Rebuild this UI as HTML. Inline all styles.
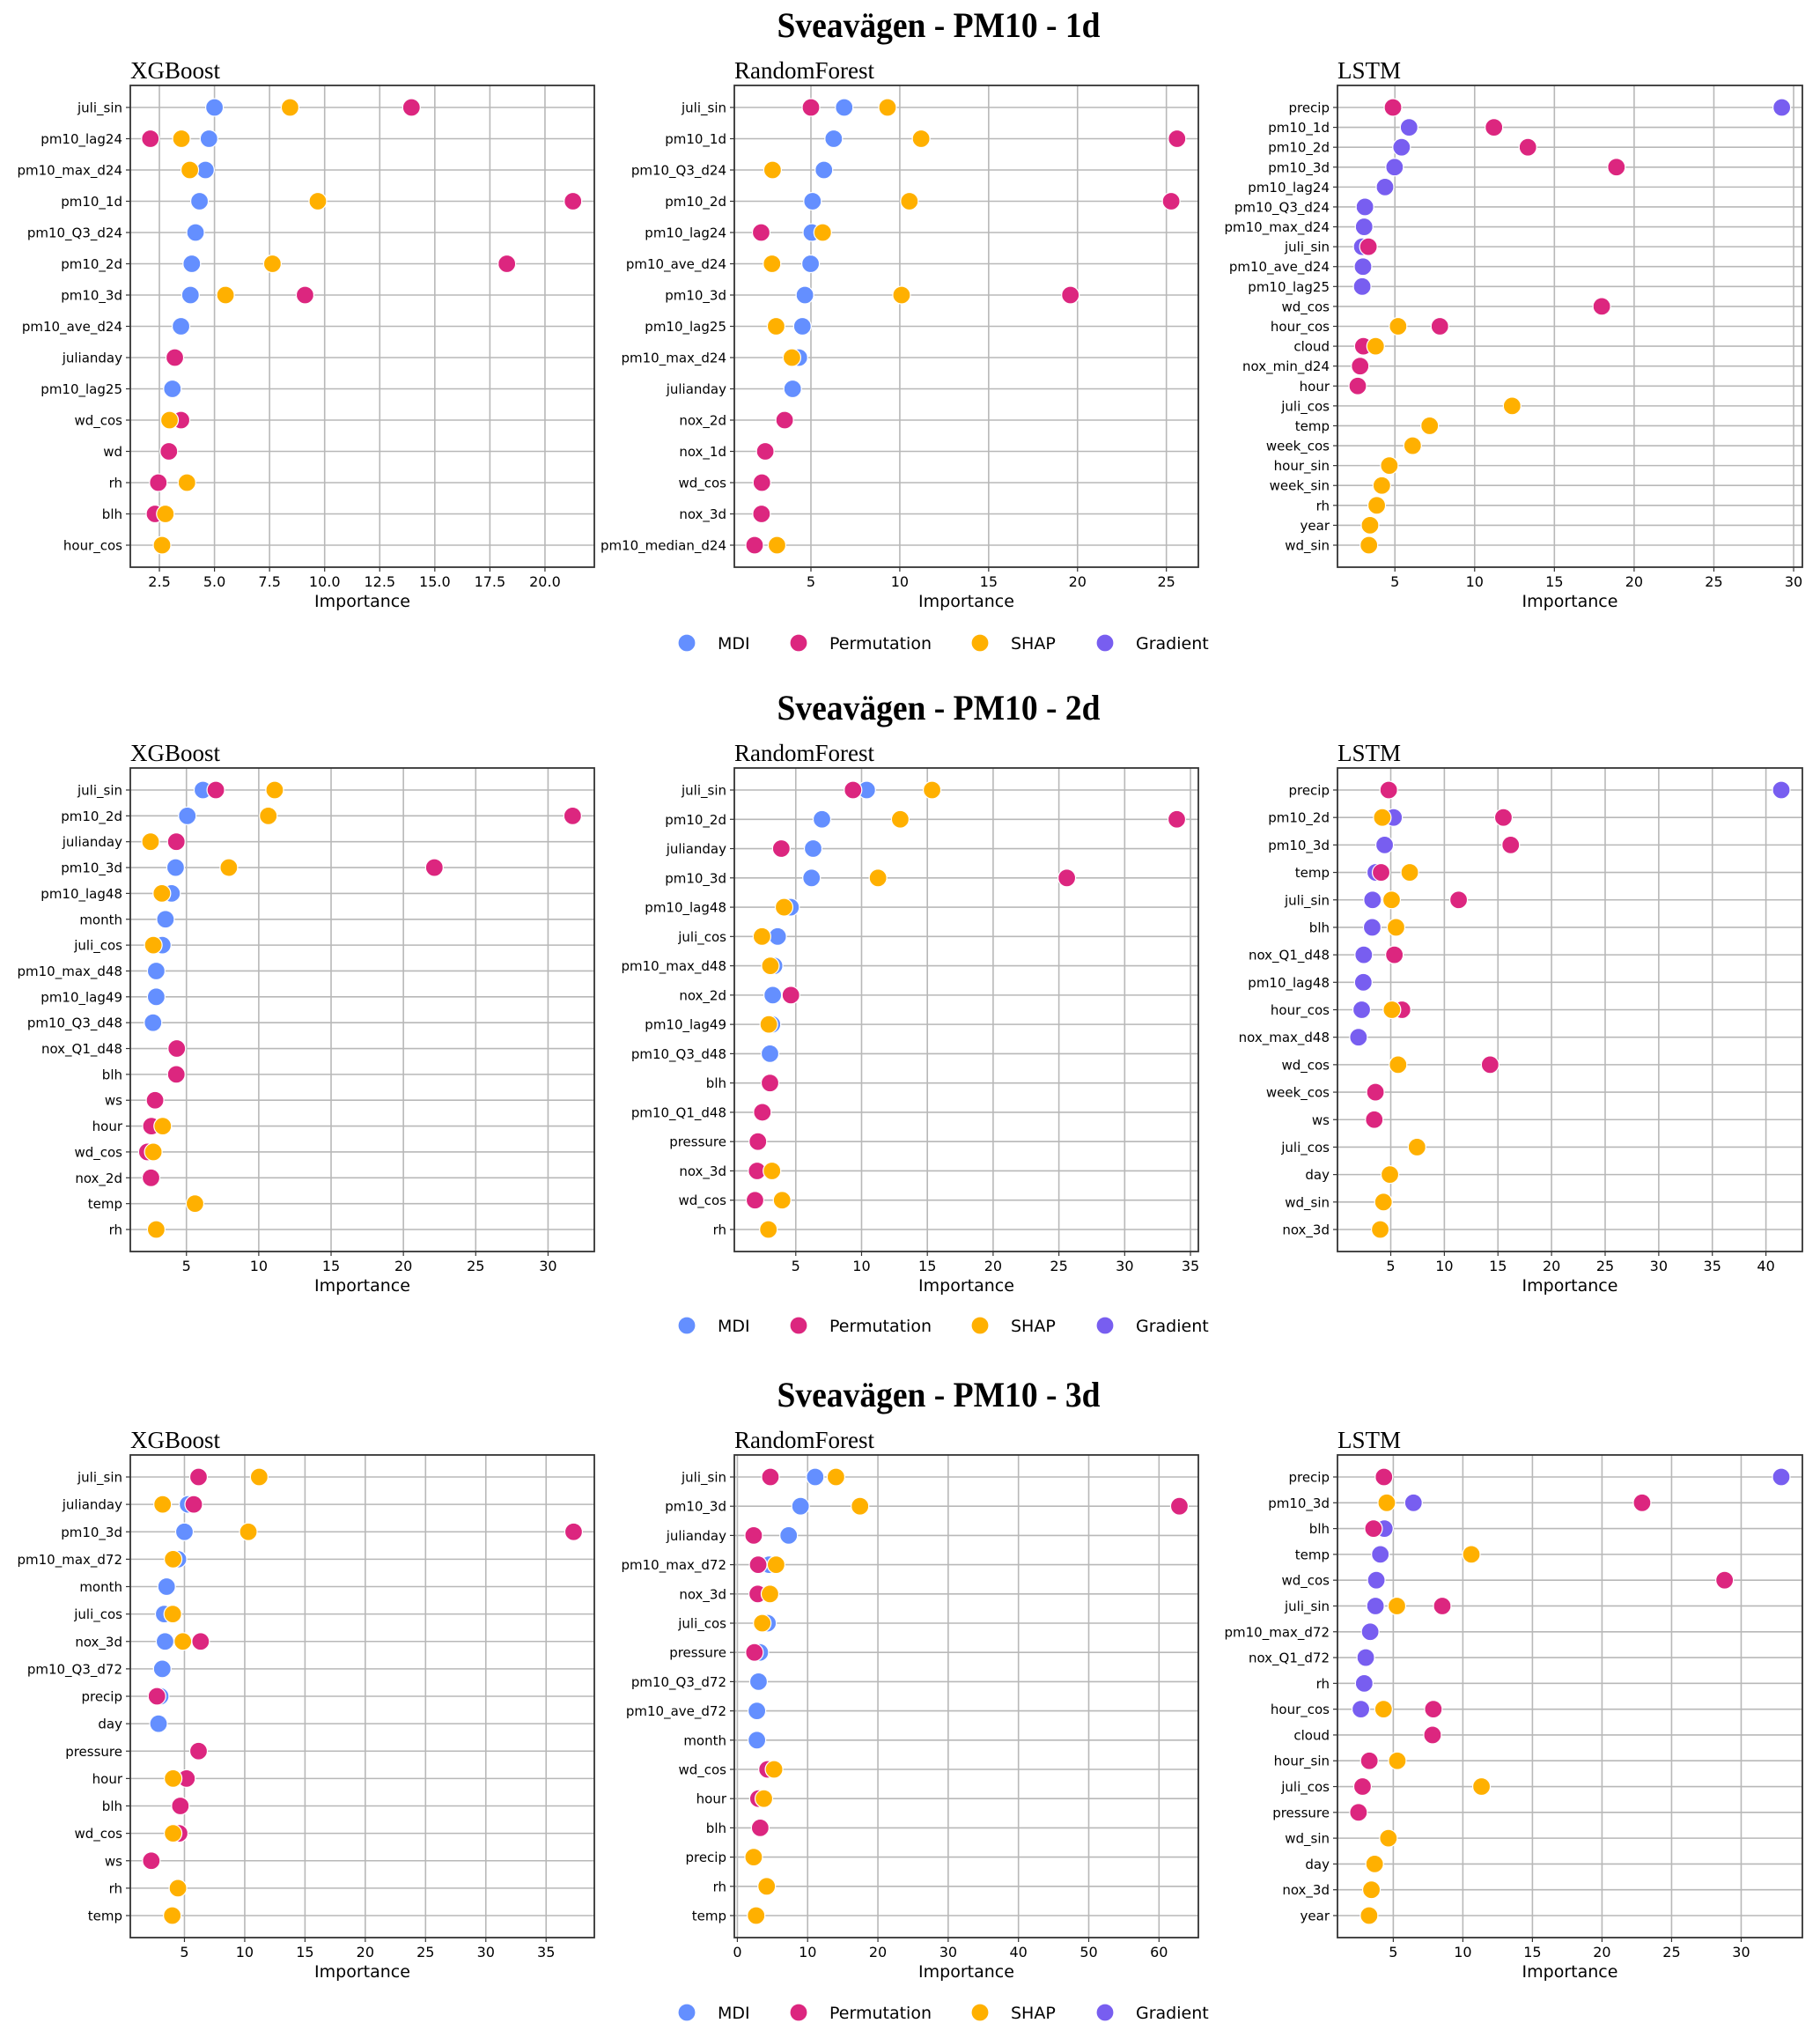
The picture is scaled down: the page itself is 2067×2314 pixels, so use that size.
<!DOCTYPE html>
<html><head><meta charset="utf-8"><title>Sveavägen PM10 feature importance</title>
<style>
html,body{margin:0;padding:0;background:#fff;}
svg{display:block;}
</style></head>
<body>
<svg id="fig" xmlns="http://www.w3.org/2000/svg" width="2067" height="2314" viewBox="0 0 2067 2314"></svg>
<script>
// ---------- DATA ----------
const rowTitles = ["Sveavägen - PM10 - 1d", "Sveavägen - PM10 - 2d", "Sveavägen - PM10 - 3d"];
const modelNames = ["XGBoost", "RandomForest", "LSTM"];
const legendLabels = ["MDI", "Permutation", "SHAP", "Gradient"];

const p1_feat = ["juli_sin","pm10_lag24","pm10_max_d24","pm10_1d","pm10_Q3_d24","pm10_2d","pm10_3d","pm10_ave_d24","julianday","pm10_lag25","wd_cos","wd","rh","blh","hour_cos"];
const p1_mdi  = [5.0,4.75,4.59,4.32,4.14,3.97,3.91,3.48,null,3.09,null,null,null,null,null];
const p1_perm = [13.94,2.09,null,21.27,null,18.27,9.11,null,3.2,null,3.48,2.93,2.45,2.3,null];
const p1_shap = [8.43,3.5,3.88,9.69,null,7.63,5.5,null,null,null,2.96,null,3.75,2.77,2.62];
const p1_grad = [];
const p1_ticks = [2.5,5.0,7.5,10.0,12.5,15.0,17.5,20.0];
const p1_tickLabels = ["2.5","5.0","7.5","10.0","12.5","15.0","17.5","20.0"];

const p2_feat = ["juli_sin","pm10_1d","pm10_Q3_d24","pm10_2d","pm10_lag24","pm10_ave_d24","pm10_3d","pm10_lag25","pm10_max_d24","julianday","nox_2d","nox_1d","wd_cos","nox_3d","pm10_median_d24"];
const p2_mdi  = [6.87,6.28,5.73,5.09,5.05,4.98,4.66,4.52,4.32,3.97,null,null,null,null,null];
const p2_perm = [5.0,25.6,null,25.27,2.2,null,19.6,null,null,null,3.52,2.43,2.24,2.22,1.83];
const p2_shap = [9.31,11.2,2.84,10.54,5.66,2.81,10.1,3.04,3.93,null,null,null,null,null,3.09];
const p2_grad = [];
const p2_ticks = [5,10,15,20,25];
const p2_tickLabels = ["5","10","15","20","25"];

const p3_feat = ["precip","pm10_1d","pm10_2d","pm10_3d","pm10_lag24","pm10_Q3_d24","pm10_max_d24","juli_sin","pm10_ave_d24","pm10_lag25","wd_cos","hour_cos","cloud","nox_min_d24","hour","juli_cos","temp","week_cos","hour_sin","week_sin","rh","year","wd_sin"];
const p3_mdi  = [];
const p3_perm = [4.88,11.21,13.34,18.89,null,null,null,3.34,null,null,17.97,7.82,3.02,2.82,2.67,null,null,null,null,null,null,null,null];
const p3_shap = [null,null,null,null,null,null,null,null,null,null,null,5.2,3.79,null,null,12.35,7.18,6.11,4.65,4.18,3.86,3.44,3.37];
const p3_grad = [29.26,5.89,5.42,4.98,4.38,3.12,3.07,2.95,3.0,2.95,null,null,null,null,null,null,null,null,null,null,null,null,null];
const p3_ticks = [5,10,15,20,25,30];
const p3_tickLabels = ["5","10","15","20","25","30"];

const p4_feat = ["juli_sin","pm10_2d","julianday","pm10_3d","pm10_lag48","month","juli_cos","pm10_max_d48","pm10_lag49","pm10_Q3_d48","nox_Q1_d48","blh","ws","hour","wd_cos","nox_2d","temp","rh"];
const p4_mdi  = [6.14,5.06,null,4.25,3.97,3.55,3.33,2.91,2.91,2.69,null,null,null,null,null,null,null,null];
const p4_perm = [7.03,31.7,4.3,22.14,null,null,null,null,null,null,4.33,4.3,2.83,2.58,2.3,2.55,null,null];
const p4_shap = [11.1,10.66,2.52,7.93,3.3,null,2.71,null,null,null,null,null,null,3.36,2.71,null,5.59,2.91];
const p4_grad = [];
const p4_ticks = [5,10,15,20,25,30];
const p4_tickLabels = ["5","10","15","20","25","30"];

const p5_feat = ["juli_sin","pm10_2d","julianday","pm10_3d","pm10_lag48","juli_cos","pm10_max_d48","nox_2d","pm10_lag49","pm10_Q3_d48","blh","pm10_Q1_d48","pressure","nox_3d","wd_cos","rh"];
const p5_mdi  = [10.39,6.99,6.32,6.2,4.6,3.62,3.35,3.25,3.19,3.04,null,null,null,null,null,null];
const p5_perm = [9.35,33.96,3.9,25.6,null,null,null,4.63,null,null,3.04,2.46,2.12,2.06,1.9,null];
const p5_shap = [15.36,12.94,null,11.25,4.11,2.43,3.07,null,2.95,null,null,null,null,3.19,3.96,2.92];
const p5_grad = [];
const p5_ticks = [5,10,15,20,25,30,35];
const p5_tickLabels = ["5","10","15","20","25","30","35"];

const p6_feat = ["precip","pm10_2d","pm10_3d","temp","juli_sin","blh","nox_Q1_d48","pm10_lag48","hour_cos","nox_max_d48","wd_cos","week_cos","ws","juli_cos","day","wd_sin","nox_3d"];
const p6_mdi  = [];
const p6_perm = [4.81,15.51,16.19,4.1,11.33,null,5.34,null,6.05,null,14.27,3.57,3.46,null,null,null,null];
const p6_shap = [null,4.21,null,6.77,5.08,5.49,null,null,5.11,null,5.68,null,null,7.45,4.92,4.32,4.02];
const p6_grad = [41.43,5.26,4.43,3.6,3.3,3.27,2.48,2.44,2.29,1.99,null,null,null,null,null,null,null];
const p6_ticks = [5,10,15,20,25,30,35,40];
const p6_tickLabels = ["5","10","15","20","25","30","35","40"];

const p7_feat = ["juli_sin","julianday","pm10_3d","pm10_max_d72","month","juli_cos","nox_3d","pm10_Q3_d72","precip","day","pressure","hour","blh","wd_cos","ws","rh","temp"];
const p7_mdi  = [null,5.3,5.0,4.46,3.52,3.32,3.39,3.16,2.99,2.85,null,null,null,null,null,null,null];
const p7_perm = [6.17,5.77,37.28,null,null,null,6.34,null,2.72,null,6.17,5.17,4.66,4.56,2.25,null,null];
const p7_shap = [11.2,3.19,10.3,4.06,null,4.03,4.87,null,null,null,null,4.06,null,4.06,null,4.46,3.99];
const p7_grad = [];
const p7_ticks = [5,10,15,20,25,30,35];
const p7_tickLabels = ["5","10","15","20","25","30","35"];

const p8_feat = ["juli_sin","pm10_3d","julianday","pm10_max_d72","nox_3d","juli_cos","pressure","pm10_Q3_d72","pm10_ave_d72","month","wd_cos","hour","blh","precip","rh","temp"];
const p8_mdi  = [11.07,8.99,7.3,4.52,null,4.29,3.19,3.01,2.78,2.78,null,null,null,null,null,null];
const p8_perm = [4.7,62.9,2.32,2.96,2.9,null,2.43,null,null,null,4.29,3.0,3.25,null,null,null];
const p8_shap = [14.03,17.45,null,5.51,4.64,3.54,null,null,null,null,5.22,3.77,null,2.32,4.17,2.67];
const p8_grad = [];
const p8_ticks = [0,10,20,30,40,50,60];
const p8_tickLabels = ["0","10","20","30","40","50","60"];

const p9_feat = ["precip","pm10_3d","blh","temp","wd_cos","juli_sin","pm10_max_d72","nox_Q1_d72","rh","hour_cos","cloud","hour_sin","juli_cos","pressure","wd_sin","day","nox_3d","year"];
const p9_mdi  = [];
const p9_perm = [4.33,22.88,3.58,null,28.81,8.52,null,null,null,7.88,7.82,3.28,2.79,2.5,null,null,null,null];
const p9_shap = [null,4.53,null,10.61,null,5.26,null,null,null,4.3,null,5.29,11.34,null,4.65,3.66,3.43,3.26];
const p9_grad = [32.88,6.45,4.36,4.07,3.78,3.72,3.34,3.02,2.91,2.67,null,null,null,null,null,null,null,null];
const p9_ticks = [5,10,15,20,25,30];
const p9_tickLabels = ["5","10","15","20","25","30"];

// ---------- LAYOUT ----------
const NS = "http://www.w3.org/2000/svg";
const svg = document.getElementById("fig");
const COLORS = {mdi:"#648FFF", perm:"#DC267F", shap:"#FFB000", grad:"#785EF0"};
const SANS = '"DejaVu Sans","Liberation Sans",sans-serif';
const SERIF = '"Liberation Serif","DejaVu Serif",serif';

function mk(tag, attrs, parent) {
  const e = document.createElementNS(NS, tag);
  for (const k in attrs) e.setAttribute(k, attrs[k]);
  (parent || svg).appendChild(e);
  return e;
}

const rowsGeo = [
  {top:97, bottom:644},
  {top:872, bottom:1421},
  {top:1652, bottom:2200}
];
const colGeo = [
  {left:148, right:675},
  {left:834, right:1361},
  {left:1519, right:2047}
];
const panelDomains = [
  [1.18,22.24],[0.69,26.8],[1.4,30.55],
  [1.12,33.2],[0.33,35.6],[0.03,43.4],
  [0.51,39.0],[-0.43,65.6],[0.99,34.4]
];
const panels = [
  [p1_feat,p1_mdi,p1_perm,p1_shap,p1_grad,p1_ticks,p1_tickLabels],
  [p2_feat,p2_mdi,p2_perm,p2_shap,p2_grad,p2_ticks,p2_tickLabels],
  [p3_feat,p3_mdi,p3_perm,p3_shap,p3_grad,p3_ticks,p3_tickLabels],
  [p4_feat,p4_mdi,p4_perm,p4_shap,p4_grad,p4_ticks,p4_tickLabels],
  [p5_feat,p5_mdi,p5_perm,p5_shap,p5_grad,p5_ticks,p5_tickLabels],
  [p6_feat,p6_mdi,p6_perm,p6_shap,p6_grad,p6_ticks,p6_tickLabels],
  [p7_feat,p7_mdi,p7_perm,p7_shap,p7_grad,p7_ticks,p7_tickLabels],
  [p8_feat,p8_mdi,p8_perm,p8_shap,p8_grad,p8_ticks,p8_tickLabels],
  [p9_feat,p9_mdi,p9_perm,p9_shap,p9_grad,p9_ticks,p9_tickLabels]
];

function drawPanel(idx) {
  const r = Math.floor(idx / 3), c = idx % 3;
  const G = rowsGeo[r], C = colGeo[c];
  const [feat, mdi, perm, shap, grad, ticks, tickLabels] = panels[idx];
  const [xmin, xmax] = panelDomains[idx];
  const L = C.left, R = C.right, T = G.top, B = G.bottom;
  const pad = 25;
  const xs = v => L + (v - xmin) / (xmax - xmin) * (R - L);
  const n = feat.length;
  const ys = i => (T + pad) + i * ((B - pad) - (T + pad)) / (n - 1);

  const g = mk("g", {});
  
  

  const t = mk("text", {x:L, y:T - 8, "font-family":SERIF, "font-size":27, fill:"#000"}, g);
  t.textContent = modelNames[c];
  
  

  ticks.forEach((tv, k) => {
    const x = xs(tv);
    const gl = mk("line", {x1:x, x2:x, y1:T, y2:B, stroke:"#b8b8b8", "stroke-width":1.6}, g);
    
    
    mk("line", {x1:x, x2:x, y1:B, y2:B + 5, stroke:"#333", "stroke-width":1.2}, g);
    const tl = mk("text", {x:x, y:B + 22, "text-anchor":"middle", "font-family":SANS, "font-size":16, fill:"#000"}, g);
    tl.textContent = tickLabels[k];
    
    
  });
  feat.forEach((f, i) => {
    const y = ys(i);
    const gl = mk("line", {x1:L, x2:R, y1:y, y2:y, stroke:"#b8b8b8", "stroke-width":1.6}, g);
    
    
    mk("line", {x1:L - 5, x2:L, y1:y, y2:y, stroke:"#333", "stroke-width":1.2}, g);
    const yl = mk("text", {x:L - 9, y:y + 5.5, "text-anchor":"end", "font-family":SANS, "font-size":15, fill:"#000"}, g);
    yl.textContent = f;
    
    
  });
  const xl = mk("text", {x:(L + R) / 2, y:B + 45, "text-anchor":"middle", "font-family":SANS, "font-size":19, fill:"#000"}, g);
  xl.textContent = "Importance";
  
  

  const series = [["grad", grad], ["mdi", mdi], ["perm", perm], ["shap", shap]];
  series.forEach(([key, arr]) => {
    arr.forEach((v, i) => {
      if (v === null || v === undefined) return;
      const dot = mk("circle", {cx:xs(v), cy:ys(i), r:10, fill:COLORS[key], stroke:"#fff", "stroke-width":1.2}, g);
      
      
    });
  });

  const fr = mk("rect", {x:L, y:T, width:R - L, height:B - T, fill:"none", stroke:"#333", "stroke-width":1.8}, g);
  
  
}

function drawRowDecor(r) {
  const T = rowsGeo[r].top;
  const tt = mk("text", {x:1066, y:T - 55, "text-anchor":"middle", "font-family":SERIF, "font-weight":"bold", "font-size":40, fill:"#000", textLength:367, lengthAdjust:"spacingAndGlyphs"});
  tt.textContent = rowTitles[r];
  
  

  const ly = T + 633;
  const lg = mk("g", {});
  
  
  const mx = [780, 907, 1113, 1255];
  const keys = ["mdi", "perm", "shap", "grad"];
  legendLabels.forEach((lab, k) => {
    const m = mk("circle", {cx:mx[k], cy:ly, r:10, fill:COLORS[keys[k]], stroke:"#fff", "stroke-width":1.2}, lg);
    
    
    const tx = mk("text", {x:mx[k] + 35, y:ly + 7, "font-family":SANS, "font-size":19, fill:"#000"}, lg);
    tx.textContent = lab;
    
    
  });
}

for (let r = 0; r < 3; r++) drawRowDecor(r);
for (let i = 0; i < 9; i++) drawPanel(i);
</script>
</body></html>
